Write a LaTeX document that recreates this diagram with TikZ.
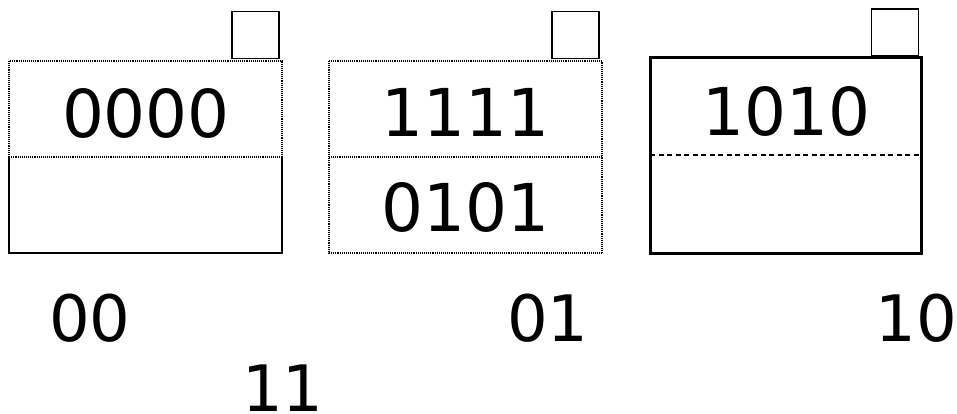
\documentclass[tikz,border=0pt]{standalone}
\usepackage{fontspec}
\setmainfont{DejaVu Sans}
\begin{document}
\begin{tikzpicture}[x=1pt,y=-1pt,
  word/.style={inner sep=0pt,font=\fontsize{66}{80}\selectfont},
  addr/.style={inner sep=0pt,font=\fontsize{64}{78}\selectfont},
  flag/.style={draw,line width=1.5pt,minimum size=47pt,inner sep=0pt},
  thinline/.style={line width=1.2pt},
  dots/.style={line width=1.3pt,dash pattern=on 1pt off 0.9pt}]
  \useasboundingbox (0,0) rectangle (957,414);
  \draw[dots] (9,157) |- (282,61) -- (282,157) -- cycle;
  \draw[thinline] (9,157) |- (282,253) -- (282,157);
  \node[flag] (f00) at (255.5,35) {};
  \node[word] (w00) at (146,113) {0000};
  \draw[dots] (329,61) rectangle (602,253);
  \draw[dots] (329,157) -- (602,157);
  \node[flag] (f01) at (575.5,35) {};
  \node[word] (w01a) at (465.5,112.5) {1111};
  \node[word] (w01b) at (465.5,207.5) {0101};
  \draw[line width=3pt] (650,58) rectangle (921,253);
  \draw[thinline,dash pattern=on 5pt off 3.5pt] (650,155) -- (921,155);
  \node[flag] (f10) at (895,32.5) {};
  \node[word] (w10) at (786.5,111.5) {1010};
  \node[addr] (a00) at (90,318.5) {00};
  \node[addr] (a01) at (548,318.5) {01};
  \node[addr] (a10) at (916.5,318.5) {10};
  \node[addr] (a11) at (283,388) {11};
\end{tikzpicture}
\end{document}
